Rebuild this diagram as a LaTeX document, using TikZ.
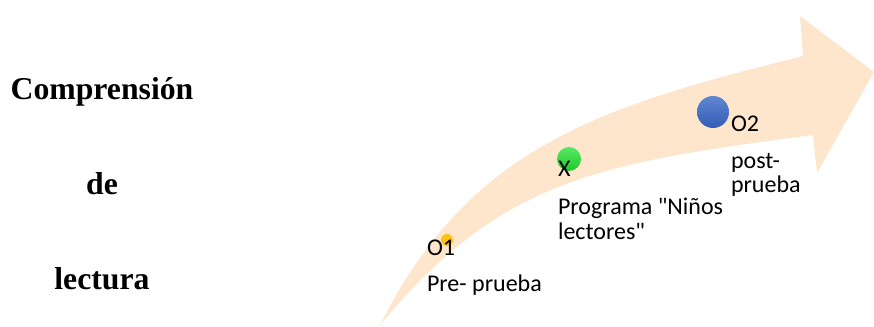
\documentclass[tikz,border=0pt]{standalone}
\usepackage{fontspec}
\setmainfont{Liberation Serif}
\newfontfamily\carl{Carlito}
\definecolor{band}{RGB}{253,230,204}
\definecolor{dotY}{RGB}{255,194,20}
\definecolor{gTop}{RGB}{90,232,100}
\definecolor{gBot}{RGB}{30,200,45}
\definecolor{bTop}{RGB}{95,135,210}
\definecolor{bBot}{RGB}{50,92,182}
\begin{document}
\begin{tikzpicture}[x=0.75pt,y=-0.75pt,
  lbl/.style={font=\carl\fontsize{18}{19}\selectfont, anchor=base west, inner sep=0pt, outer sep=0pt},
  ttl/.style={font=\fontsize{23.8}{26}\selectfont\bfseries, anchor=base, inner sep=0pt, outer sep=0pt},
  dot/.style={circle, inner sep=0pt, draw=none}]
\useasboundingbox (0,0) rectangle (874,327);
% curved arrow
\fill[band] (380,325) .. controls (470,145) and (603,106) .. (803,56)
  -- (800,16) -- (874,72) -- (817,173) -- (813,135)
  .. controls (593,163.6) and (500,181) .. cycle;
% dots
\node[dot, fill=dotY, minimum size=9pt] (d1) at (447,240) {};
\node[dot, top color=gTop, bottom color=gBot, minimum size=18pt] (d2) at (569,159) {};
\node[dot, top color=bTop, bottom color=bBot, minimum size=24pt] (d3) at (713,112) {};
% labels
\node[lbl] (o1) at (427,256) {O1};
\node[lbl] (pre) at (427,292) {Pre- prueba};
\node[lbl] (x) at (558,177) {X};
\node[lbl] (prog1) at (558,215) {Programa "Niños};
\node[lbl] (prog2) at (558,240) {lectores"};
\node[lbl] (o2) at (731,132) {O2};
\node[lbl] (post1) at (731,169) {post-};
\node[lbl] (post2) at (731,193) {prueba};
% left title
\node[ttl] (t1) at (102,100) {Comprensión};
\node[ttl] (t2) at (102,195) {de};
\node[ttl] (t3) at (102,290) {lectura};
\end{tikzpicture}
\end{document}
